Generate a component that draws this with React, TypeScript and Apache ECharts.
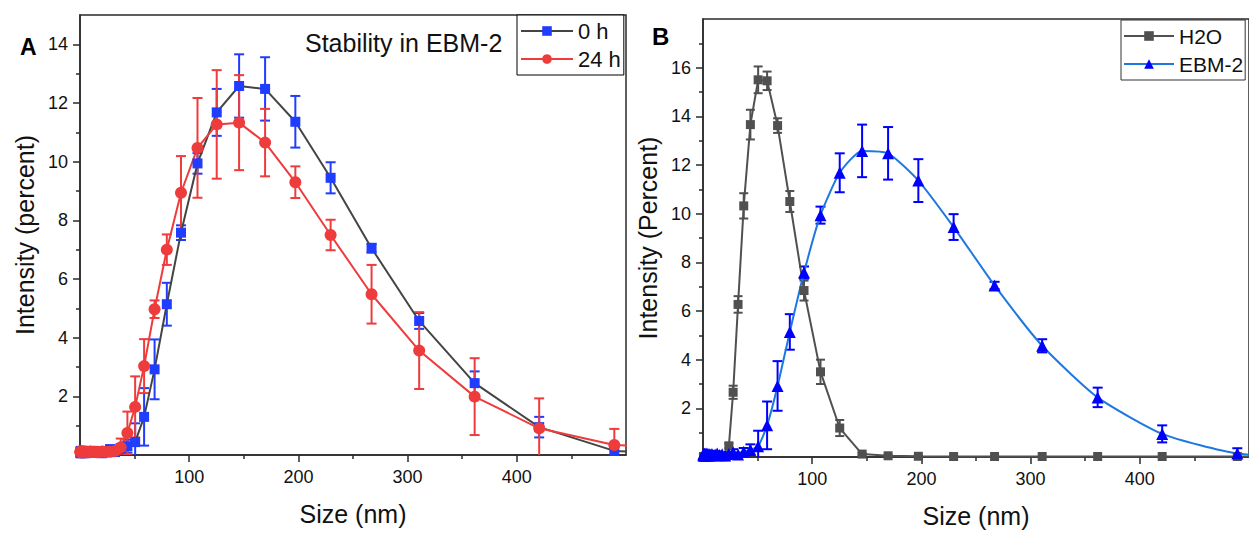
import React, { useEffect, useRef } from "react";
import * as echarts from "echarts";

// Particle size bins (nm)
const sizes = [0.4, 0.47, 0.55, 0.64, 0.74, 0.86, 1.0, 1.2, 1.3, 1.6, 1.8, 2.1, 2.5, 2.9, 3.3, 3.9, 4.5, 5.2, 6.1, 7.1, 8.2, 9.6, 11.1, 13.0, 15.1, 17.5, 20.4, 23.7, 27.6, 32.1, 37.3, 43.4, 50.5, 58.7, 68.3, 79.5, 92.5, 107.6, 125.2, 145.7, 169.5, 197.2, 229.5, 267.0, 310.6, 361.4, 420.5, 489.3, 569.3];

// 0 h in EBM-2 (same sample as "EBM-2" in panel B)
const ebm0h = [0.08, 0.12, 0.06, 0.1, 0.14, 0.07, 0.11, 0.09, 0.13, 0.06, 0.1, 0.12, 0.08, 0.14, 0.07, 0.1, 0.13, 0.06, 0.11, 0.09, 0.12, 0.07, 0.1, 0.14, 0.08, 0.11, 0.06, 0.12, 0.2, 0.1,
  0.22, 0.3, 0.44, 1.3, 2.92, 5.14, 7.58, 9.94, 11.68, 12.58, 12.48, 11.36, 9.45, 7.05, 4.57, 2.45, 0.95, 0.14, 0.0];
const ebm0hErr = [0.06, 0.08, 0.05, 0.07, 0.09, 0.05, 0.07, 0.06, 0.08, 0.05, 0.07, 0.08, 0.06, 0.09, 0.05, 0.07, 0.08, 0.05, 0.07, 0.06, 0.08, 0.05, 0.07, 0.09, 0.06, 0.07, 0.05, 0.08, 0.12, 0.08,
  0.15, 0.22, 0.64, 0.98, 1.02, 0.73, 0.25, 0.35, 0.8, 1.08, 1.08, 0.88, 0.53, 0.15, 0.27, 0.4, 0.35, 0.22, 0.0];

// 24 h in EBM-2
const ebm24h = [0.1, 0.12, 0.09, 0.11, 0.1, 0.13, 0.1, 0.09, 0.12, 0.1, 0.11, 0.1, 0.12, 0.09, 0.11, 0.1, 0.12, 0.1, 0.09, 0.11, 0.1, 0.12, 0.1, 0.11, 0.09, 0.1, 0.12, 0.1, 0.11, 0.14,
  0.26, 0.75, 1.64, 3.03, 4.97, 7.0, 8.94, 10.47, 11.27, 11.33, 10.65, 9.3, 7.5, 5.48, 3.56, 1.99, 0.91, 0.34, 0.2];
const ebm24hErr = [0.08, 0.1, 0.07, 0.09, 0.08, 0.1, 0.08, 0.07, 0.1, 0.08, 0.09, 0.08, 0.1, 0.07, 0.09, 0.08, 0.1, 0.08, 0.07, 0.09, 0.08, 0.1, 0.08, 0.09, 0.07, 0.08, 0.1, 0.08, 0.09, 0.12,
  0.3, 0.73, 1.04, 0.92, 0.3, 0.52, 1.25, 1.7, 1.85, 1.62, 1.15, 0.54, 0.52, 1.0, 1.31, 1.31, 1.02, 0.55, 0.2];

// H2O
const h2o = [0.01, 0.01, 0.01, 0.01, 0.01, 0.01, 0.01, 0.01, 0.01, 0.01, 0.01, 0.01, 0.01, 0.01, 0.01, 0.01, 0.01, 0.01, 0.01, 0.01, 0.01, 0.01, 0.01, 0.01, 0.01, 0.01, 0.01,
  0.46, 2.66, 6.27, 10.32, 13.66, 15.5, 15.46, 13.62, 10.5, 6.84, 3.5, 1.19, 0.12, 0.05, 0.03, 0.02, 0.02, 0.02, 0.02, 0.02, 0.02, 0.02];
const h2oErr = [0, 0, 0, 0, 0, 0, 0, 0, 0, 0, 0, 0, 0, 0, 0, 0, 0, 0, 0, 0, 0, 0, 0, 0, 0, 0, 0,
  0.1, 0.27, 0.34, 0.52, 0.61, 0.55, 0.38, 0.3, 0.43, 0.41, 0.5, 0.33, 0.05, 0.03, 0.02, 0, 0, 0, 0, 0, 0, 0];

const xMajor = [100, 200, 300, 400];
const xMinor = [50, 150, 250, 350, 450];
const yMajorA = [2, 4, 6, 8, 10, 12, 14];
const yMinorA = [1, 3, 5, 7, 9, 11, 13];
const yMajorB = [2, 4, 6, 8, 10, 12, 14, 16];
const yMinorB = [1, 3, 5, 7, 9, 11, 13, 15, 17];

const FONT = "'Liberation Sans', Arial, sans-serif";
const AX = "#2a2a2a";

function pts(v: number[]) {
  return sizes.map((s, i) => [s, v[i]]);
}
function errs(v: number[], e: number[]) {
  return sizes.map((s, i) => [s, v[i] - e[i], v[i] + e[i]]);
}

function errSeries(name: string, v: number[], e: number[], color: string, axis: number, cap: number) {
  return {
    type: "custom",
    name,
    xAxisIndex: axis,
    yAxisIndex: axis,
    clip: true,
    silent: true,
    data: errs(v, e),
    encode: { x: 0, y: [1, 2] },
    renderItem: (params: any, api: any) => {
      const x = api.value(0);
      const lo = api.value(1);
      const hi = api.value(2);
      if (!(hi - lo > 0)) return { type: "group", children: [] };
      const t = api.coord([x, hi]);
      const b = api.coord([x, lo]);
      const style = { stroke: color, lineWidth: 2, fill: "none" };
      return {
        type: "group",
        children: [
          { type: "line", shape: { x1: t[0], y1: t[1], x2: b[0], y2: b[1] }, style },
          { type: "line", shape: { x1: t[0] - cap, y1: t[1], x2: t[0] + cap, y2: t[1] }, style },
          { type: "line", shape: { x1: b[0] - cap, y1: b[1], x2: b[0] + cap, y2: b[1] }, style },
        ],
      };
    },
  };
}

function xAxes(grid: number) {
  return [
    {
      gridIndex: grid, type: "value", min: 0, max: 500, position: "bottom",
      axisLine: { show: true, onZero: false, lineStyle: { color: AX, width: 1.5 } },
      axisTick: { show: true, customValues: xMajor, length: 7, lineStyle: { color: AX, width: 1.5 } },
      axisLabel: { customValues: xMajor, fontSize: 18, color: "#111", fontFamily: FONT, margin: 13 },
      splitLine: { show: false },
      name: "Size (nm)", nameLocation: "middle", nameGap: 46,
      nameTextStyle: { fontSize: 25, color: "#111", fontFamily: FONT },
    },
    {
      gridIndex: grid, type: "value", min: 0, max: 500, position: "bottom",
      axisLine: { show: false, onZero: false },
      axisTick: { show: true, customValues: xMinor, length: 4, lineStyle: { color: AX, width: 1.5 } },
      axisLabel: { show: false },
      splitLine: { show: false },
    },
  ];
}

function yAxes(grid: number, max: number, major: number[], minor: number[], title: string) {
  return [
    {
      gridIndex: grid, type: "value", min: 0, max, position: "left",
      axisLine: { show: true, onZero: false, lineStyle: { color: AX, width: 1.5 } },
      axisTick: { show: true, customValues: major, length: 7, lineStyle: { color: AX, width: 1.5 } },
      axisLabel: { customValues: major, fontSize: 18, color: "#111", fontFamily: FONT, margin: 12 },
      splitLine: { show: false },
      name: title, nameLocation: "middle", nameGap: 43,
      nameTextStyle: { fontSize: 25, color: "#111", fontFamily: FONT },
    },
    {
      gridIndex: grid, type: "value", min: 0, max, position: "left",
      axisLine: { show: false, onZero: false },
      axisTick: { show: true, customValues: minor, length: 4, lineStyle: { color: AX, width: 1.5 } },
      axisLabel: { show: false },
      splitLine: { show: false },
    },
  ];
}

export default function App() {
  const ref = useRef<HTMLDivElement>(null);
  useEffect(() => {
    if (!ref.current) return;
    const chart = echarts.init(ref.current, null, { renderer: "svg" });
    const blueA = "#1f3cff";
    const redA = "#ee3b3b";
    const grayA = "#444444";
    const blueB = "#0000ff";
    const lineB = "#1e78e0";
    const grayB = "#505050";
    chart.setOption({
      animation: false,
      backgroundColor: "#fff",
      textStyle: { fontFamily: FONT },
      grid: [
        { left: 80, top: 15, width: 546, height: 440, show: true, borderColor: AX, borderWidth: 1.5, backgroundColor: "transparent" },
        { left: 703, top: 19, width: 547, height: 440, show: true, borderColor: AX, borderWidth: 1.5, backgroundColor: "transparent" },
      ],
      xAxis: [...xAxes(0), ...xAxes(1)],
      yAxis: [
        ...yAxes(0, 15, yMajorA, yMinorA, "Intensity (percent)"),
        ...yAxes(1, 18, yMajorB, yMinorB, "Intensity (Percent)"),
      ],
      legend: [
        {
          data: ["0 h", "24 h"], orient: "vertical", left: 517, top: 15,
          padding: [3, 3, 3, 3], itemWidth: 52, itemHeight: 12, itemGap: 2,
          borderColor: "#000", borderWidth: 1, backgroundColor: "#fff",
          textStyle: { fontSize: 22, color: "#111", fontFamily: FONT, lineHeight: 26 },
        },
        {
          data: ["H2O", "EBM-2"], orient: "vertical", left: 1121, top: 20,
          padding: [3, 2, 3, 2], itemWidth: 50, itemHeight: 12, itemGap: 2,
          borderColor: "#333", borderWidth: 1, backgroundColor: "#fff",
          textStyle: { fontSize: 21, color: "#111", fontFamily: FONT, lineHeight: 26 },
        },
      ],
      graphic: [
        { type: "text", left: 305, top: 30, style: { text: "Stability in EBM-2", fontSize: 25, fontFamily: FONT, fill: "#111" } },
        { type: "text", left: 20, top: 35, style: { text: "A", fontSize: 23, fontWeight: "bold", fontFamily: FONT, fill: "#000" } },
        { type: "text", left: 652, top: 24, style: { text: "B", fontSize: 24, fontWeight: "bold", fontFamily: FONT, fill: "#000" } },
      ],
      series: [
        errSeries("err0h", ebm0h, ebm0hErr, blueA, 0, 5),
        {
          type: "line", name: "0 h", xAxisIndex: 0, yAxisIndex: 0, data: pts(ebm0h),
          symbol: "rect", symbolSize: 10, clip: true,
          lineStyle: { color: grayA, width: 2 }, itemStyle: { color: blueA },
        },
        errSeries("err24h", ebm24h, ebm24hErr, redA, 0, 5),
        {
          type: "line", name: "24 h", xAxisIndex: 0, yAxisIndex: 0, data: pts(ebm24h),
          symbol: "circle", symbolSize: 12, clip: true,
          lineStyle: { color: redA, width: 2 }, itemStyle: { color: redA },
        },
        errSeries("errH2O", h2o, h2oErr, grayB, 2, 4.5),
        {
          type: "line", name: "H2O", xAxisIndex: 2, yAxisIndex: 2, data: pts(h2o),
          symbol: "rect", symbolSize: 9, clip: true,
          lineStyle: { color: grayB, width: 2 }, itemStyle: { color: grayB },
        },
        errSeries("errEBM", ebm0h, ebm0hErr, blueB, 2, 5),
        {
          type: "line", name: "EBM-2", xAxisIndex: 2, yAxisIndex: 2, data: pts(ebm0h),
          symbol: "triangle", symbolSize: 12, clip: true, smooth: 0.2,
          lineStyle: { color: lineB, width: 2 }, itemStyle: { color: blueB },
        },
      ],
    });
    return () => chart.dispose();
  }, []);
  return <div ref={ref} style={{ position: "fixed", left: 0, top: 0, width: 1249, height: 533 }} />;
}
